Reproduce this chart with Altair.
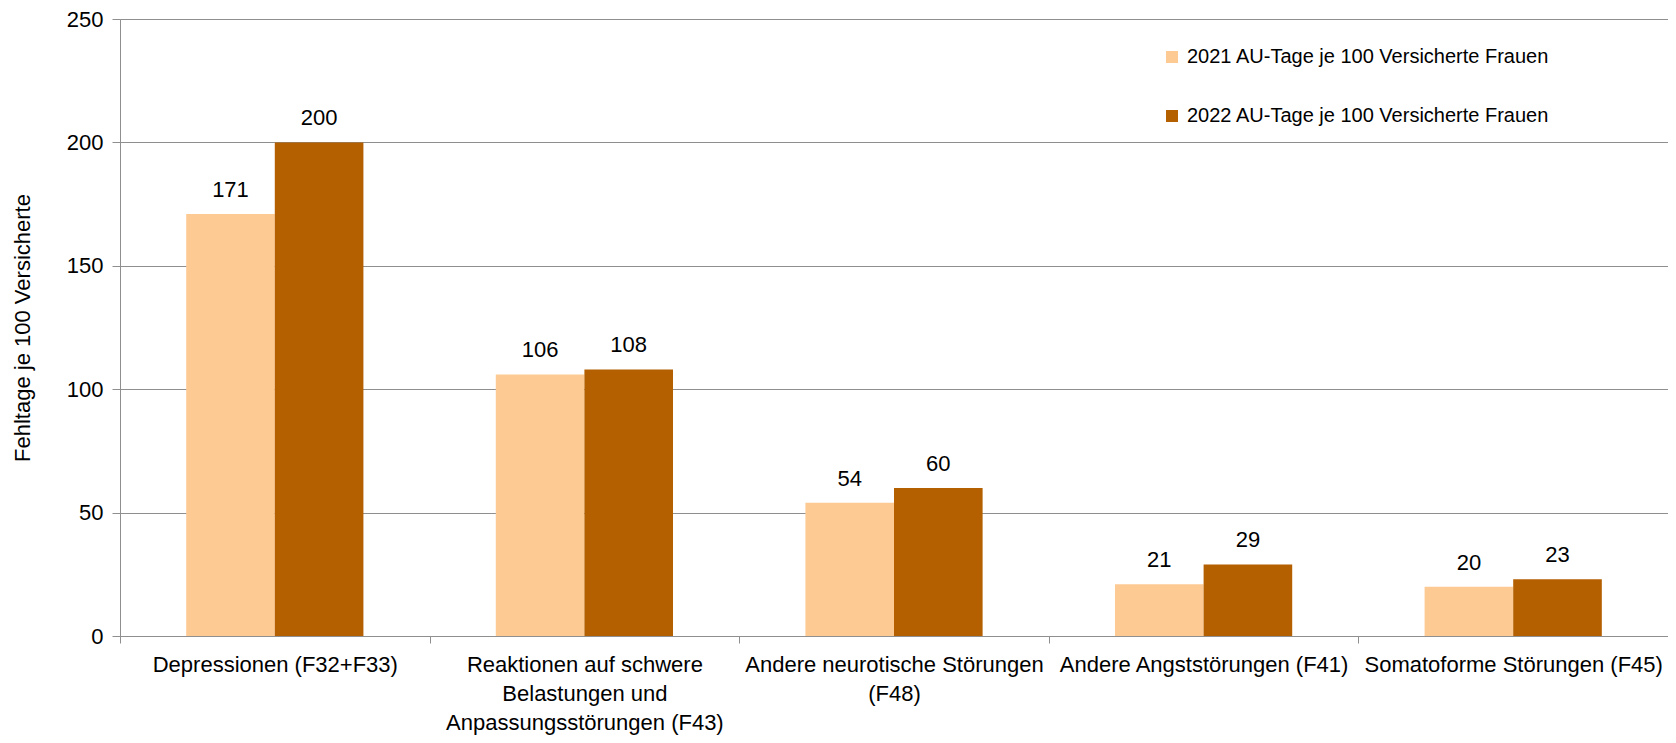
import altair as alt
import pandas as pd

categories = [
    "Depressionen (F32+F33)",
    "Reaktionen auf schwere|Belastungen und|Anpassungsstörungen (F43)",
    "Andere neurotische Störungen|(F48)",
    "Andere Angststörungen (F41)",
    "Somatoforme Störungen (F45)",
]
series = ["2021 AU-Tage je 100 Versicherte Frauen", "2022 AU-Tage je 100 Versicherte Frauen"]
values_2021 = [171, 106, 54, 21, 20]
values_2022 = [200, 108, 60, 29, 23]
colors = ["#FECA94", "#B45F00"]

rows = []
for c, a, b in zip(categories, values_2021, values_2022):
    rows.append({"cat": c, "series": series[0], "value": a})
    rows.append({"cat": c, "series": series[1], "value": b})
df = pd.DataFrame(rows)

FONT = "Liberation Sans, Arial, sans-serif"
FS = 22

x = alt.X(
    "cat:N",
    sort=categories,
    title=None,
    scale=alt.Scale(paddingInner=0, paddingOuter=0),
    axis=alt.Axis(
        labelExpr="split(datum.label, '|')",
        labelAngle=0,
        labelFontSize=FS,
        labelFont=FONT,
        labelColor="#000000",
        labelLineHeight=29,
        labelPadding=11,
        labelLimit=0,
        tickBand="extent",
        tickSize=7,
        tickColor="#8f8f8f",
        domainColor="#8f8f8f",
        grid=False,
        labelBaseline="top",
    ),
)
xoff = alt.XOffset(
    "series:N",
    sort=series,
    scale=alt.Scale(paddingOuter=0.747, paddingInner=0),
)
y = alt.Y(
    "value:Q",
    scale=alt.Scale(domain=[0, 250], nice=False),
    axis=alt.Axis(
        values=[0, 50, 100, 150, 200, 250],
        title="Fehltage je 100 Versicherte",
        titleFont=FONT,
        titleFontSize=22,
        titleFontWeight="normal",
        titleColor="#000000",
        titlePadding=32,
        labelFont=FONT,
        labelFontSize=FS,
        labelColor="#000000",
        labelPadding=9,
        tickSize=8,
        tickColor="#8f8f8f",
        domainColor="#8f8f8f",
        gridColor="#8f8f8f",
        gridWidth=1.2,
    ),
)
color = alt.Color(
    "series:N",
    sort=series,
    scale=alt.Scale(domain=series, range=colors),
    legend=alt.Legend(
        title=None,
        orient="none",
        legendX=1042,
        legendY=28,
        symbolType="square",
        symbolSize=144,
        symbolStrokeWidth=0,
        symbolOpacity=1,
        labelFont=FONT,
        labelFontSize=20,
        labelColor="#000000",
        labelOffset=5,
        labelLimit=0,
        rowPadding=39,
        padding=0,
    ),
)

base = alt.Chart(df)
bars = base.mark_bar(opacity=1).encode(x=x, xOffset=xoff, y=y, color=color)
labels = base.mark_text(
    baseline="bottom", dy=-12, font=FONT, fontSize=FS, color="#000000"
).encode(x=x, xOffset=xoff, y=y, text="value:Q")

chart = (
    (bars + labels)
    .properties(
        width=1548,
        height=617,
        autosize=alt.AutoSizeParams(type="none"),
        padding={"left": 112, "top": 11, "right": 0, "bottom": 99},
    )
    .configure_view(stroke=None)
    .configure(background="#ffffff")
)
chart.save("out.html", embed_options={"renderer": "svg", "actions": False})
